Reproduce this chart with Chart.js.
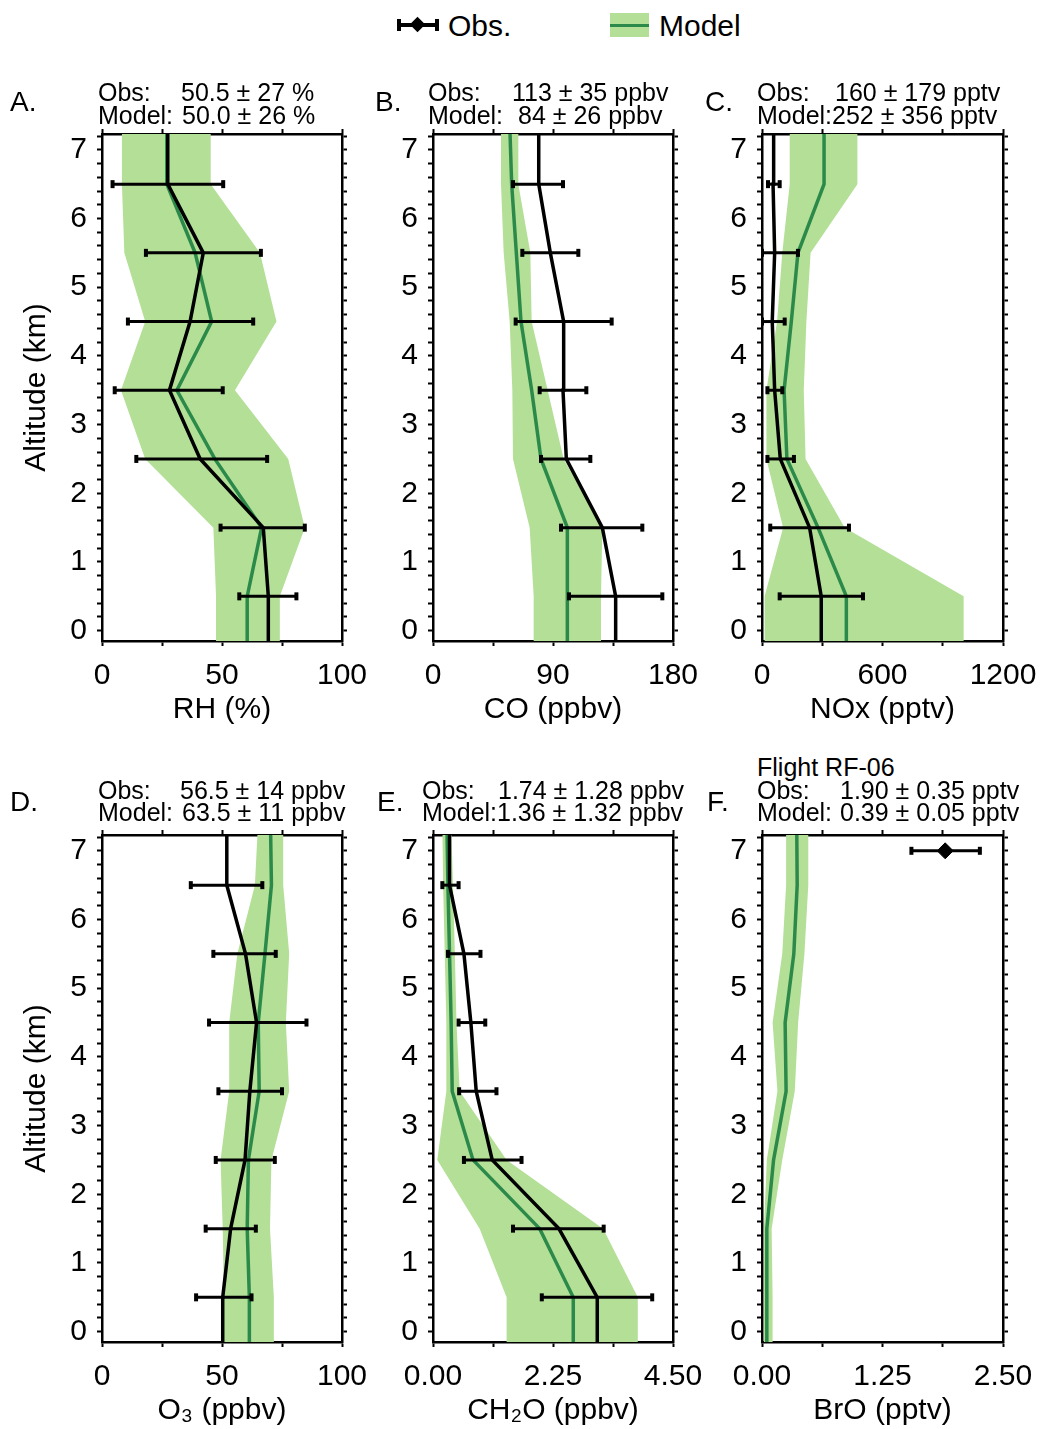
<!DOCTYPE html>
<html>
<head>
<meta charset="utf-8">
<script src="https://cdn.jsdelivr.net/npm/chart.js@4/dist/chart.umd.min.js"></script>
<style>
  body { margin: 0; background: #fff; color: #000; font-family: 'Liberation Sans', Arial, Helvetica, sans-serif; }
  #page { position: relative; width: 1041px; height: 1429px; overflow: hidden; }
  canvas { position: absolute; }
  .t { position: absolute; white-space: pre; font-size: 25px; line-height: 25px; }
  .letter { position: absolute; font-size: 28px; line-height: 28px; }
  .ltxt { position: absolute; top: 11px; font-size: 30px; line-height: 30px; }
  .blk { position: absolute; background: #000; }
</style>
</head>
<body>
<div id="page">
  <!-- legend -->
  <div class="blk" style="left:397px; top:23px; width:42px; height:4px;"></div>
  <div class="blk" style="left:397px; top:19px; width:4px; height:12px;"></div>
  <div class="blk" style="left:435px; top:19px; width:4px; height:12px;"></div>
  <div class="blk" style="left:412px; top:19px; width:11px; height:11px; transform:rotate(45deg);"></div>
  <div class="ltxt" style="left:448px;">Obs.</div>
  <div style="position:absolute; left:610px; top:13px; width:39px; height:24px; background:#b3df97;"></div>
  <div style="position:absolute; left:610px; top:24px; width:39px; height:3px; background:#2b8a4a;"></div>
  <div class="ltxt" style="left:659px;">Model</div>

  <!-- panel letters and stats -->
  <div class="letter" style="left:10px; top:88px;">A.</div>
  <div class="t" style="left:98px; top:80px;">Obs:</div><div class="t" style="left:181px; top:80px;">50.5 ± 27 %</div>
  <div class="t" style="left:98px; top:103px;">Model:</div><div class="t" style="left:182px; top:103px;">50.0 ± 26 %</div>

  <div class="letter" style="left:375px; top:88px;">B.</div>
  <div class="t" style="left:428px; top:80px;">Obs:</div><div class="t" style="left:512px; top:80px;">113 ± 35 ppbv</div>
  <div class="t" style="left:428px; top:103px;">Model:</div><div class="t" style="left:518px; top:103px;">84 ± 26 ppbv</div>

  <div class="letter" style="left:705px; top:88px;">C.</div>
  <div class="t" style="left:757px; top:80px;">Obs:</div><div class="t" style="left:835px; top:80px;">160 ± 179 pptv</div>
  <div class="t" style="left:757px; top:103px;">Model:</div><div class="t" style="left:832px; top:103px;">252 ± 356 pptv</div>

  <div class="letter" style="left:10px; top:788px;">D.</div>
  <div class="t" style="left:98px; top:778px;">Obs:</div><div class="t" style="left:180px; top:778px;">56.5 ± 14 ppbv</div>
  <div class="t" style="left:98px; top:800px;">Model:</div><div class="t" style="left:182px; top:800px;">63.5 ± 11 ppbv</div>

  <div class="letter" style="left:377px; top:788px;">E.</div>
  <div class="t" style="left:422px; top:778px;">Obs:</div><div class="t" style="left:498px; top:778px;">1.74 ± 1.28 ppbv</div>
  <div class="t" style="left:422px; top:800px;">Model:</div><div class="t" style="left:497px; top:800px;">1.36 ± 1.32 ppbv</div>

  <div class="letter" style="left:707px; top:788px;">F.</div>
  <div class="t" style="left:757px; top:755px;">Flight RF-06</div>
  <div class="t" style="left:757px; top:778px;">Obs:</div><div class="t" style="left:840px; top:778px;">1.90 ± 0.35 pptv</div>
  <div class="t" style="left:757px; top:800px;">Model:</div><div class="t" style="left:840px; top:800px;">0.39 ± 0.05 pptv</div>
</div>

<script>
// altitude levels (km): profile values run past the axis ends and get clipped
var ALT = [-0.3, 0.5, 1.5, 2.5, 3.5, 4.5, 5.5, 6.5, 7.4];
var BAR_ALT = [0.5, 1.5, 2.5, 3.5, 4.5, 5.5, 6.5];
var Y_MIN = -0.15, Y_MAX = 7.23;

// A. RH (%)
var rhTicks = ['0', '50', '100'];
var rhObs = [69.3, 69.3, 67.2, 40.9, 28.1, 36.7, 42.2, 27.4, 27.4];
var rhObsLo = [57.2, 49.4, 14.3, 5.3, 10.8, 18.3, 4.4];
var rhObsHi = [81.0, 84.5, 68.8, 50.3, 63.0, 66.2, 50.5];
var rhModel = [60.5, 60.5, 66.5, 47.0, 31.2, 45.7, 38.8, 27.0, 27.0];
var rhModelLo = [47.5, 47.5, 46.4, 18.0, 7.9, 18.0, 9.3, 8.3, 8.3];
var rhModelHi = [73.8, 74.1, 84.5, 77.6, 55.4, 72.7, 65.8, 45.3, 45.3];

// B. CO (ppbv)
var coTicks = ['0', '90', '180'];
var coObs = [137, 137, 127, 100, 97.5, 98, 88, 79.3, 79.3];
var coObsLo = [102, 96, 81, 80, 62, 67, 60];
var coObsHi = [172, 157, 118, 115, 134, 109, 97.5];
var coModel = [101, 101, 100.5, 81, 74, 66, 62.5, 59, 57.5];
var coModelLo = [75.5, 75.5, 72.5, 60, 59.5, 57.5, 53, 51, 51];
var coModelHi = [126, 126, 127, 98, 86, 74, 73, 64, 64];

// C. NOx (pptv)
var noxTicks = ['0', '600', '1200'];
var noxObs = [295, 295, 237, 91, 63, 51, 63, 55, 58];
var noxObsLo = [88, 41, 27, 27, 0, 0, 30];
var noxObsHi = [503, 433, 159, 101, 113, 179, 88];
var noxModel = [420, 420, 279, 124, 110, 146, 179, 309, 309];
var noxModelLo = [13, 13, 105, 22, 22, 75, 101, 138, 138];
var noxModelHi = [1004, 1004, 412, 217, 208, 221, 242, 475, 475];

// D. O3 (ppbv)
var o3Ticks = ['0', '50', '100'];
var o3Obs = [50.3, 50.3, 53.6, 59.6, 61.6, 64.4, 59.8, 52, 52];
var o3ObsLo = [39.2, 43.2, 47.4, 48.5, 44.6, 46.4, 37];
var o3ObsHi = [62.3, 64.1, 72, 75, 85.2, 72.4, 66.8];
var o3Model = [61.4, 61.4, 60.5, 61, 65.5, 65.1, 67.9, 70.6, 70.2];
var o3ModelLo = [50.8, 50.8, 50.3, 49.4, 53, 53, 56.4, 63.7, 65];
var o3ModelHi = [71.6, 71.6, 70, 70.6, 78, 76.6, 78, 75.5, 75.5];

// E. CH2O (ppbv)
var hchoTicks = ['0.00', '2.25', '4.50'];
var hchoObs = [3.08, 3.08, 2.36, 1.11, 0.81, 0.71, 0.58, 0.31, 0.31];
var hchoObsLo = [2.04, 1.5, 0.58, 0.49, 0.48, 0.28, 0.175];
var hchoObsHi = [4.11, 3.2, 1.66, 1.19, 0.98, 0.89, 0.48];
var hchoModel = [2.63, 2.63, 2.0, 0.75, 0.36, 0.34, 0.31, 0.28, 0.26];
var hchoModelLo = [1.38, 1.38, 0.875, 0.08, 0.25, 0.25, 0.22, 0.19, 0.175];
var hchoModelHi = [3.84, 3.84, 3.19, 1.38, 0.5, 0.44, 0.41, 0.375, 0.34];

// F. BrO (pptv), one observed point only
var broTicks = ['0.00', '1.25', '2.50'];
var broObsAlt = [7];
var broObs = [1.90];
var broObsLo = [1.55];
var broObsHi = [2.26];
var broModel = [0.05, 0.05, 0.05, 0.12, 0.25, 0.24, 0.33, 0.365, 0.36];
var broModelLo = [0.02, 0.02, 0.02, 0.05, 0.16, 0.11, 0.21, 0.25, 0.25];
var broModelHi = [0.11, 0.11, 0.1, 0.21, 0.34, 0.375, 0.44, 0.48, 0.48];

var BAND = '#b3df97';
var MODEL = '#2b8a4a';
var FONT = "'Liberation Sans', Arial, Helvetica, sans-serif";
var X_AXIS_H = 87;

Chart.defaults.font.family = FONT;
Chart.defaults.color = '#000';

function profile(xs, alts) {
    return xs.map(function (x, i) { return {x: x, y: alts[i]}; });
}

function axisGrid() {
    return { display: true, drawOnChartArea: false, drawTicks: true, tickLength: 5, tickWidth: 2, tickColor: '#000' };
}

function makePanel(p) {
    var canvas = document.createElement('canvas');
    var width = p.yWidth + p.plotW + 48;
    var height = 30 + 507 + X_AXIS_H;
    canvas.width = width;
    canvas.height = height;
    canvas.style.left = p.left + 'px';
    canvas.style.top = p.top + 'px';
    document.getElementById('page').insertBefore(canvas, document.getElementById('page').firstChild);

    var datasets = [
        { data: profile(p.modelLo, ALT), indexAxis: 'y', borderColor: 'transparent', borderWidth: 0, pointRadius: 0, fill: false, order: 10 },
        { data: profile(p.modelHi, ALT), indexAxis: 'y', borderColor: 'transparent', borderWidth: 0, pointRadius: 0, fill: '-1', backgroundColor: BAND, order: 9 },
        { data: profile(p.model, ALT), indexAxis: 'y', borderColor: MODEL, borderWidth: 3.5, pointRadius: 0, fill: false, order: 5 }
    ];
    if (p.obsLine) {
        datasets.push({ data: profile(p.obs, ALT), indexAxis: 'y', borderColor: '#000', borderWidth: 3.5, pointRadius: 0, fill: false, order: 2 });
    }
    p.obsAlt.forEach(function (a, i) {
        datasets.push({
            data: [{x: p.obsLo[i], y: a}, {x: p.obsHi[i], y: a}],
            borderColor: '#000', borderWidth: 3, fill: false,
            pointStyle: 'line', pointRotation: 90, pointRadius: 4,
            pointBorderWidth: 4, pointBorderColor: '#000', order: 1
        });
    });
    if (p.diamond) {
        datasets.push({
            data: profile(p.obs, p.obsAlt), showLine: false,
            pointStyle: 'rectRot', pointRadius: 8, pointBackgroundColor: '#000', pointBorderColor: '#000', order: 0
        });
    }
    datasets.forEach(function (d) { d.xAxisID = 'x'; d.yAxisID = 'y'; });

    var yTicks = { stepSize: 0.2, includeBounds: false, autoSkip: false, padding: 10, font: {size: 30},
        callback: function (v) { return Number.isInteger(v) ? v : ''; } };

    new Chart(canvas, {
        type: 'line',
        data: { datasets: datasets },
        options: {
            responsive: false,
            animation: false,
            devicePixelRatio: 1,
            layout: { padding: { top: 22, right: 40, left: 0, bottom: 0 } },
            plugins: { legend: { display: false }, tooltip: { enabled: false } },
            scales: {
                x: {
                    type: 'linear', position: 'bottom', min: 0, max: p.xMax,
                    ticks: { stepSize: p.xStep, autoSkip: false, maxRotation: 0, padding: 12, font: {size: 30},
                        callback: function (v, i) { return i % 2 === 0 ? p.ticks[i / 2] : ''; } },
                    grid: axisGrid(),
                    border: { display: true, color: '#000', width: 2.5 },
                    title: { display: true, text: p.xTitle, font: {size: 30}, color: '#000', padding: {top: 0, bottom: 0} },
                    afterFit: function (s) { s.height = X_AXIS_H; }
                },
                y: {
                    type: 'linear', position: 'left', min: Y_MIN, max: Y_MAX,
                    ticks: yTicks,
                    grid: axisGrid(),
                    border: { display: true, color: '#000', width: 2.5 },
                    title: { display: !!p.yTitle, text: 'Altitude (km)', font: {size: 30}, color: '#000', padding: {top: 19, bottom: 0} },
                    afterFit: function (s) { s.width = p.yWidth; }
                },
                x2: {
                    type: 'linear', position: 'top', min: 0, max: p.xMax,
                    ticks: { display: false, stepSize: p.xStep, autoSkip: false },
                    grid: axisGrid(),
                    border: { display: true, color: '#000', width: 2.5 },
                    afterFit: function (s) { s.height = 8; }
                },
                y2: {
                    type: 'linear', position: 'right', min: Y_MIN, max: Y_MAX,
                    ticks: { display: false, stepSize: 0.2, includeBounds: false, autoSkip: false },
                    grid: axisGrid(),
                    border: { display: true, color: '#000', width: 2.5 },
                    afterFit: function (s) { s.width = 8; }
                }
            }
        }
    });
}

var ROW1 = 104, ROW2 = 805;

makePanel({ left: 0, top: ROW1, yWidth: 102, plotW: 240, xMax: 100, xStep: 25, ticks: rhTicks, xTitle: 'RH (%)', yTitle: true,
    obs: rhObs, obsLo: rhObsLo, obsHi: rhObsHi, obsAlt: BAR_ALT, obsLine: true,
    model: rhModel, modelLo: rhModelLo, modelHi: rhModelHi });
makePanel({ left: 353, top: ROW1, yWidth: 80, plotW: 240, xMax: 180, xStep: 45, ticks: coTicks, xTitle: 'CO (ppbv)',
    obs: coObs, obsLo: coObsLo, obsHi: coObsHi, obsAlt: BAR_ALT, obsLine: true,
    model: coModel, modelLo: coModelLo, modelHi: coModelHi });
makePanel({ left: 682, top: ROW1, yWidth: 80, plotW: 241, xMax: 1200, xStep: 300, ticks: noxTicks, xTitle: 'NOx (pptv)',
    obs: noxObs, obsLo: noxObsLo, obsHi: noxObsHi, obsAlt: BAR_ALT, obsLine: true,
    model: noxModel, modelLo: noxModelLo, modelHi: noxModelHi });
makePanel({ left: 0, top: ROW2, yWidth: 102, plotW: 240, xMax: 100, xStep: 25, ticks: o3Ticks, xTitle: 'O\u2083 (ppbv)', yTitle: true,
    obs: o3Obs, obsLo: o3ObsLo, obsHi: o3ObsHi, obsAlt: BAR_ALT, obsLine: true,
    model: o3Model, modelLo: o3ModelLo, modelHi: o3ModelHi });
makePanel({ left: 353, top: ROW2, yWidth: 80, plotW: 240, xMax: 4.5, xStep: 1.125, ticks: hchoTicks, xTitle: 'CH\u2082O (ppbv)',
    obs: hchoObs, obsLo: hchoObsLo, obsHi: hchoObsHi, obsAlt: BAR_ALT, obsLine: true,
    model: hchoModel, modelLo: hchoModelLo, modelHi: hchoModelHi });
makePanel({ left: 682, top: ROW2, yWidth: 80, plotW: 241, xMax: 2.5, xStep: 0.625, ticks: broTicks, xTitle: 'BrO (pptv)',
    obs: broObs, obsLo: broObsLo, obsHi: broObsHi, obsAlt: broObsAlt, obsLine: false, diamond: true,
    model: broModel, modelLo: broModelLo, modelHi: broModelHi });
</script>
</body>
</html>
